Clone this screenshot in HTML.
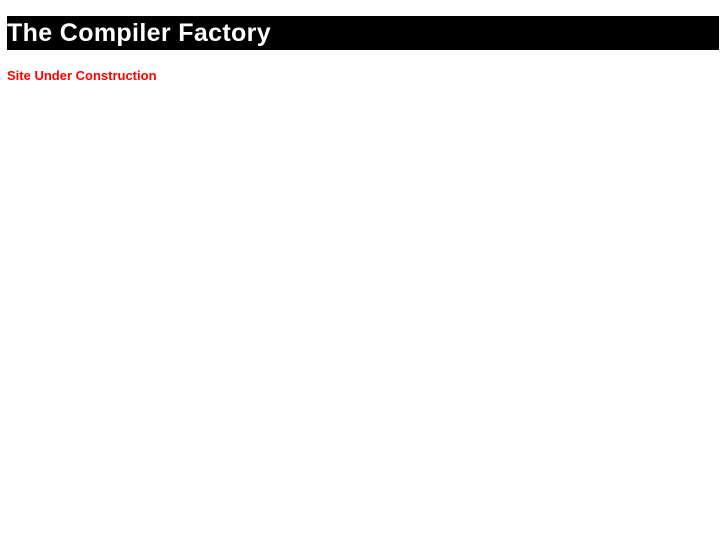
<!DOCTYPE html>
<html><head><style>
body{margin:0;background:#fff;font-family:"Liberation Sans",Arial,sans-serif;}
.bar{position:absolute;left:7px;top:16px;width:712px;height:34px;background:#000;color:#fff;font-weight:bold;font-size:25px;letter-spacing:0.35px;line-height:34px;}
.sub{position:absolute;left:7px;top:68px;color:#f00;font-weight:bold;font-size:13px;line-height:16px;}
</style></head><body>
<div class="bar">The Compiler Factory</div>
<div class="sub">Site Under Construction</div>
</body></html>
